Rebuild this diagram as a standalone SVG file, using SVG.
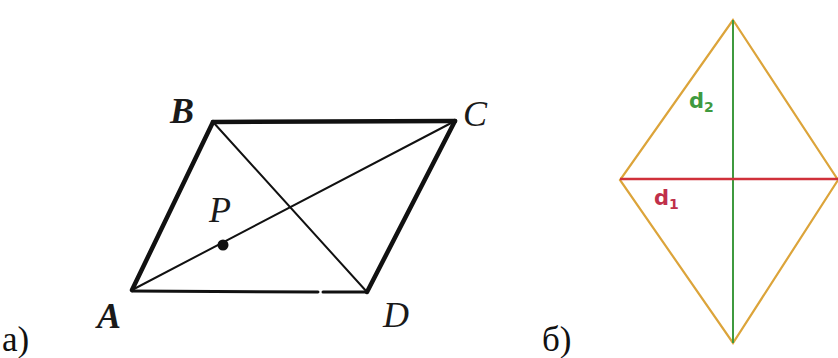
<svg xmlns="http://www.w3.org/2000/svg" width="838" height="358" viewBox="0 0 838 358">
<style>
.lbl{font-family:"Liberation Serif",serif;font-style:italic;font-size:36px;fill:#1a1a1a}
.cap{font-family:"Liberation Serif",serif;font-size:35px;fill:#111}
.edge{stroke:#111;stroke-linecap:round;fill:none}
.rh{stroke:#dca43a;stroke-width:2.2;fill:none}
.d{font-family:"DejaVu Sans",sans-serif;font-weight:bold;font-size:21px}
</style>
<rect width="838" height="358" fill="#fff"/>
<g id="connectors">
<line class="edge" x1="132" y1="290" x2="213" y2="122" stroke-width="4.5"/>
<line class="edge" x1="213" y1="122" x2="455" y2="121" stroke-width="4.5"/>
<line class="edge" x1="455" y1="121" x2="367" y2="292" stroke-width="4.5"/>
<line class="edge" x1="132" y1="291" x2="318" y2="292" stroke-width="3"/>
<line class="edge" x1="323" y1="292" x2="367" y2="292" stroke-width="3"/>
<line class="edge" x1="213" y1="122" x2="367" y2="292" stroke-width="2"/>
<line class="edge" x1="132" y1="290" x2="455" y2="121" stroke-width="2"/>
<polygon class="rh" points="733,20 838,180 733,343 620,180"/>
<line x1="733" y1="20" x2="733" y2="343" stroke="#3f9a3f" stroke-width="2"/>
<line x1="620" y1="179" x2="838" y2="179" stroke="#d0303a" stroke-width="2.5"/>
</g>
<g id="node-A"><text class="lbl" x="97" y="328" font-weight="bold">A</text></g>
<g id="node-B"><text class="lbl" x="170" y="123" font-weight="bold">B</text></g>
<g id="node-C"><text class="lbl" x="463" y="126">C</text></g>
<g id="node-D"><text class="lbl" x="383" y="327">D</text></g>
<g id="node-P"><circle cx="223" cy="245" r="5.5" fill="#111"/><text class="lbl" x="209" y="222" font-size="28" font-style="normal">P</text></g>
<g id="label-d2"><text class="d" x="689" y="108" fill="#3f9a3f">d<tspan font-size="14" dy="4">2</tspan></text></g>
<g id="label-d1"><text class="d" x="654" y="205" fill="#c0304a">d<tspan font-size="14" dy="4">1</tspan></text></g>
<text class="cap" x="2" y="351">а)</text>
<text class="cap" x="542" y="351">б)</text>
</svg>
